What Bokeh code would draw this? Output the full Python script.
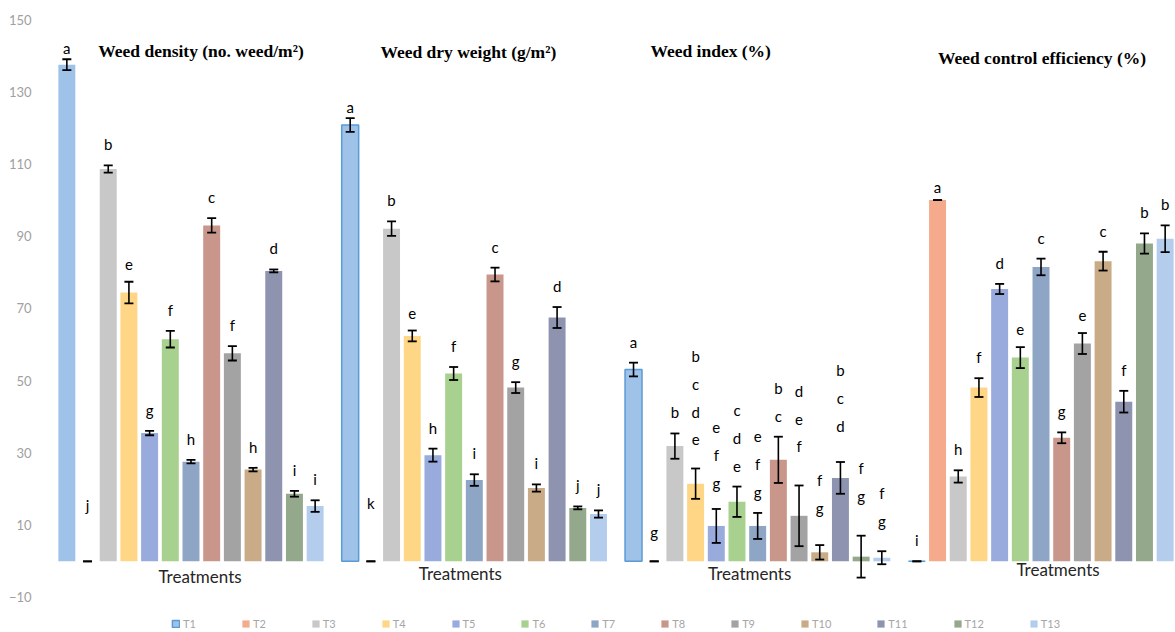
from bokeh.plotting import figure
from bokeh.models import (FactorRange, ColumnDataSource, Whisker, TeeHead,
                          Legend, LegendItem, FixedTicker)
from bokeh.core.properties import value
from bokeh.embed import file_html
from bokeh.resources import INLINE

# ---------------- data ----------------
treatments = ["T1", "T2", "T3", "T4", "T5", "T6", "T7", "T8", "T9", "T10", "T11", "T12", "T13"]
groups = ["Weed density (no. weed/m²)", "Weed dry weight (g/m²)",
          "Weed index (%)", "Weed control efficiency (%)"]

density = [137.5, 0, 108.6, 74.4, 35.5, 61.5, 27.6, 93.0, 57.6, 25.4, 80.4, 18.7, 15.3]
density_err = [1.5, 0, 1.0, 3.0, 0.6, 2.3, 0.5, 2.0, 2.0, 0.5, 0.4, 0.8, 1.6]
density_let = ["a", "j", "b", "e", "g", "f", "h", "c", "f", "h", "d", "i", "i"]

dry = [120.8, 0, 92.1, 62.4, 29.4, 52.0, 22.5, 79.4, 48.1, 20.3, 67.5, 14.8, 13.1]
dry_err = [1.9, 0, 2.0, 1.5, 1.8, 1.8, 1.6, 1.9, 1.5, 1.0, 2.9, 0.4, 1.0]
dry_let = ["a", "k", "b", "e", "h", "f", "i", "c", "g", "i", "d", "j", "j"]

windex = [53.1, 0, 31.9, 21.5, 9.8, 16.5, 9.8, 28.1, 12.6, 2.5, 23.1, 1.3, 1.0]
windex_err = [1.9, 0, 3.5, 4.2, 4.7, 4.2, 3.6, 6.4, 8.4, 2.0, 4.4, 5.8, 1.8]
windex_let = ["a", "g", "b", "bcde", "efg", "cde", "efg", "bc", "def", "fg", "bcd", "fg", "fg"]

wce = [0, 100, 23.5, 48.1, 75.4, 56.4, 81.5, 34.2, 60.3, 83.1, 44.2, 88.0, 89.3]
wce_err = [0, 0, 1.7, 2.6, 1.4, 2.9, 2.3, 1.5, 2.9, 2.6, 3.0, 2.8, 3.7]
wce_let = ["i", "a", "h", "f", "d", "e", "c", "g", "e", "c", "f", "b", "b"]

y_ticks = [-10, 10, 30, 50, 70, 90, 110, 130, 150]

values = [density, dry, windex, wce]
errors = [density_err, dry_err, windex_err, wce_err]
letters = [density_let, dry_let, windex_let, wce_let]

# ---------------- style ----------------
colors = ["#9fc2e9", "#f5ab8b", "#c8c8c8", "#ffd586", "#99aadd", "#a8d08f",
          "#8fa5c5", "#c8968b", "#a3a3a3", "#c9ab87", "#8e93b0", "#94a98c", "#b4cdec"]
t1_border = "#5b9bd5"
title_dx = [10, -6, -47, 1]
title_dy = [31, 32, 31, 38]
treat_dx = [9, -14, -8, 17]
treat_dy = [15, 12, 12, 8]
label_gap = 12
# extra lift (px) of a few hand-placed letter labels: (group, treatment) -> px
label_lift = {(0, 0): -10, (0, 1): 35, (1, 0): -10, (1, 1): 37, (2, 1): 8,
              (2, 3): 8, (2, 4): 5, (2, 8): 18, (2, 9): 16, (2, 10): 15,
              (2, 11): 19, (2, 12): 9, (3, 1): -8}

factors = [(g, t) for g in groups for t in treatments]

p = figure(x_range=FactorRange(*factors, group_padding=0.694, range_padding=0),
           y_range=(-19.7, 150), width=1175, height=632,
           output_backend="svg", toolbar_location=None,
           min_border_left=56, min_border_right=0, min_border_top=19, min_border_bottom=0)
p.outline_line_color = None
p.xgrid.grid_line_color = None
p.ygrid.grid_line_color = None
p.xaxis.visible = False
p.yaxis.ticker = FixedTicker(ticks=y_ticks)
p.yaxis.axis_line_color = None
p.yaxis.major_tick_line_color = None
p.yaxis.minor_tick_line_color = None
p.yaxis.major_label_standoff = 19
p.yaxis.major_label_text_color = "#a0a0a0"
p.yaxis.major_label_text_font = "Lato"
p.yaxis.major_label_text_font_size = "13px"

# bars: one renderer per treatment
items = []
for j, t in enumerate(treatments):
    src = ColumnDataSource(dict(
        x=[(g, t) for g in groups],
        top=[vals[j] for vals in values],
        la=[0, 1, 1, 1] if j == 0 else [0, 0, 0, 0],
    ))
    r = p.vbar(x="x", top="top", bottom=0, width=0.82, source=src,
               fill_color=colors[j], line_color=t1_border if j == 0 else colors[j],
               line_alpha="la", line_width=1.5)
    items.append(LegendItem(label=t, renderers=[r], index=1 if j == 0 else None))

# error bars
up, lo, lab, yoff = [], [], [], []
for k in range(len(groups)):
    for j in range(len(treatments)):
        up.append(values[k][j] + errors[k][j])
        lo.append(values[k][j] - errors[k][j])
        lab.append("\n".join(letters[k][j]))
        yoff.append(-(label_gap + label_lift.get((k, j), 0)))
wsrc = ColumnDataSource(dict(x=factors, upper=up, lower=lo, lab=lab, yoff=yoff))
w = Whisker(base="x", upper="upper", lower="lower", source=wsrc, level="overlay",
            line_color="black", line_width=1.6,
            upper_head=TeeHead(size=9, line_color="black", line_width=1.8),
            lower_head=TeeHead(size=9, line_color="black", line_width=1.8))
p.add_layout(w)

# significance letters
p.text(x="x", y="upper", text="lab", source=wsrc, text_align="center",
       text_baseline="bottom", y_offset="yoff", text_font=value("Lato"),
       text_font_size="15px", text_color="black", text_line_height=1.55)

# panel titles
p.text(x=groups, y=[150] * 4, text=groups, x_offset=title_dx, y_offset=title_dy,
       text_align="center", text_baseline="middle",
       text_font=value("Liberation Serif"), text_font_style="bold",
       text_font_size="17.5px", text_color="black")

# x labels
p.text(x=groups, y=[0] * 4, text=["Treatments"] * 4, x_offset=treat_dx, y_offset=treat_dy,
       text_align="center", text_baseline="middle",
       text_font=value("Lato"), text_font_size="17px", text_color="#262626")

legend = Legend(items=items, orientation="horizontal", location=(115, 2),
                spacing=45, glyph_width=9, glyph_height=9, label_standoff=3,
                label_width=1, label_height=10, padding=0, margin=0,
                label_text_font="Lato", label_text_font_size="11px",
                label_text_color="#a6a6a6", border_line_color=None,
                background_fill_alpha=0)
p.add_layout(legend)

open("out.html", "w").write(file_html(p, INLINE))
